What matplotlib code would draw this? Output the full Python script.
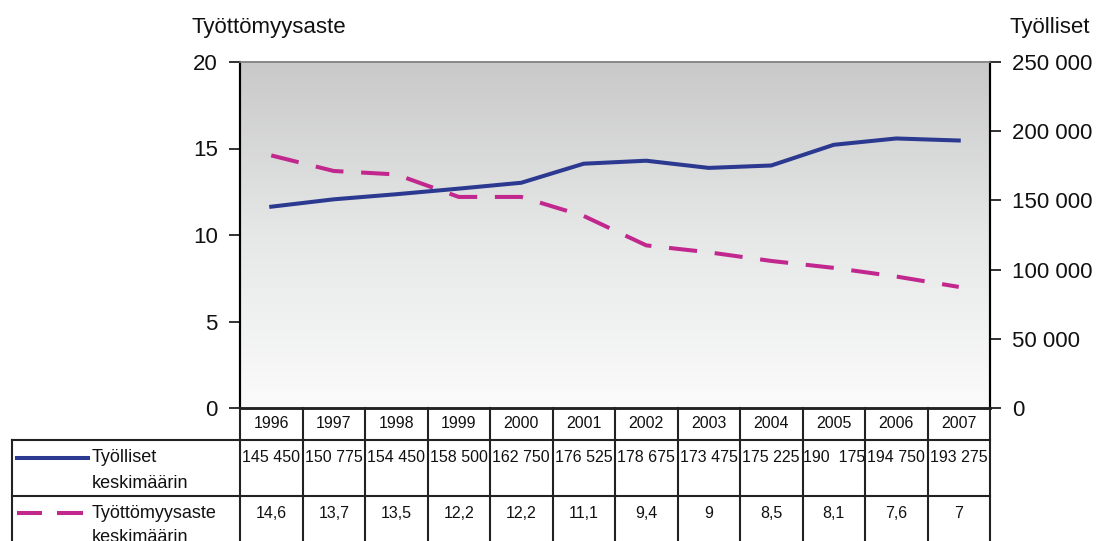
import numpy as np
import matplotlib.pyplot as plt
from matplotlib.colors import LinearSegmentedColormap

plt.rcParams['font.family'] = ['Liberation Sans', 'DejaVu Sans']

years = ['1996', '1997', '1998', '1999', '2000', '2001', '2002', '2003', '2004', '2005', '2006', '2007']
tyolliset = [145450, 150775, 154450, 158500, 162750, 176525, 178675, 173475, 175225, 190175, 194750, 193275]
tyottomyys = [14.6, 13.7, 13.5, 12.2, 12.2, 11.1, 9.4, 9, 8.5, 8.1, 7.6, 7]
tyolliset_txt = ['145 450', '150 775', '154 450', '158 500', '162 750', '176 525', '178 675',
                 '173 475', '175 225', '190  175', '194 750', '193 275']
tyottomyys_txt = ['14,6', '13,7', '13,5', '12,2', '12,2', '11,1', '9,4', '9', '8,5', '8,1', '7,6', '7']

blue = '#2B3990'
magenta = '#C1278D'

W, H = 1104, 541
fig = plt.figure(figsize=(W / 100, H / 100), dpi=100)

# plot area in pixel coords
px0, px1, py0, py1 = 240, 990, 62, 408
ax = fig.add_axes([px0 / W, 1 - py1 / H, (px1 - px0) / W, (py1 - py0) / H])
ax2 = ax.twinx()

n = len(years)
x = np.arange(n)
ax.set_xlim(-0.5, n - 0.5)
ax.set_ylim(0, 20)
ax2.set_ylim(0, 250000)

# gray gradient background
cmap = LinearSegmentedColormap.from_list('bg', ['#fbfbfb', '#e6e7e7', '#c9c9c9'])
grad = np.linspace(0, 1, 256).reshape(-1, 1)
ax.imshow(grad, extent=[-0.5, n - 0.5, 0, 20], origin='lower', aspect='auto', cmap=cmap, zorder=0)

ax.plot(x, tyottomyys, color=magenta, lw=2.9, dashes=(7, 4.4), zorder=3)
ax2.plot(x, tyolliset, color=blue, lw=2.9, zorder=3)

ax.set_yticks([0, 5, 10, 15, 20])
ax2.set_yticks([0, 50000, 100000, 150000, 200000, 250000])
ax2.set_yticklabels(['0', '50 000', '100 000', '150 000', '200 000', '250 000'])
ax.set_xticks([])
ax.tick_params(axis='y', labelsize=16, length=8, width=1.3, pad=8, color='#222222', labelcolor='#111111')
ax2.tick_params(axis='y', labelsize=16, length=8, width=1.3, pad=8, color='#222222', labelcolor='#111111')

for a in (ax, ax2):
    a.spines['top'].set_color('#888888')
    a.spines['top'].set_linewidth(1.2)
    a.spines['left'].set_linewidth(1.5)
    a.spines['right'].set_linewidth(1.5)
    a.spines['bottom'].set_linewidth(1.8)
    a.spines['bottom'].set_color('#222222')

fig.text(192 / W, 1 - 28 / H, 'Työttömyysaste', fontsize=16, va='center', ha='left', color='#111111')
fig.text(1010 / W, 1 - 28 / H, 'Työlliset', fontsize=16, va='center', ha='left', color='#111111')

# data table drawn on an overlay in pixel coordinates
tab = fig.add_axes([0, 0, 1, 1], zorder=5)
tab.set_xlim(0, W)
tab.set_ylim(H, 0)
tab.axis('off')
tab.patch.set_alpha(0)

cw = (px1 - px0) / n
r0, r1, r2, r3 = 408, 440, 496, 560
lc = '#222222'
lw = 1.5
# horizontal lines
tab.plot([12, px1], [r1, r1], color=lc, lw=lw)
tab.plot([12, px1], [r2, r2], color=lc, lw=lw)
# vertical lines
for i in range(n + 1):
    xx = px0 + i * cw
    tab.plot([xx, xx], [r0, r3], color=lc, lw=lw)
tab.plot([12, 12], [r1, r3], color=lc, lw=lw)

for i in range(n):
    cx = px0 + (i + 0.5) * cw
    tab.text(cx, 424, years[i], ha='center', va='center', fontsize=11.5, color='#111111')
    tab.text(cx, 458, tyolliset_txt[i], ha='center', va='center', fontsize=11.5, color='#111111')
    tab.text(cx, 513, tyottomyys_txt[i], ha='center', va='center', fontsize=11.5, color='#111111')

# legend keys in row labels
tab.plot([17, 88], [458, 458], color=blue, lw=2.9)
tab.plot([17, 42], [513, 513], color=magenta, lw=2.9, solid_capstyle='butt')
tab.plot([57, 83], [513, 513], color=magenta, lw=2.9, solid_capstyle='butt')
tab.text(92, 458, 'Työlliset', ha='left', va='center', fontsize=13, color='#111111')
tab.text(92, 484, 'keskimäärin', ha='left', va='center', fontsize=13, color='#111111')
tab.text(92, 513, 'Työttömyysaste', ha='left', va='center', fontsize=13, color='#111111')
tab.text(92, 538, 'keskimäärin', ha='left', va='center', fontsize=13, color='#111111')

fig.savefig('out.png', dpi=100)
